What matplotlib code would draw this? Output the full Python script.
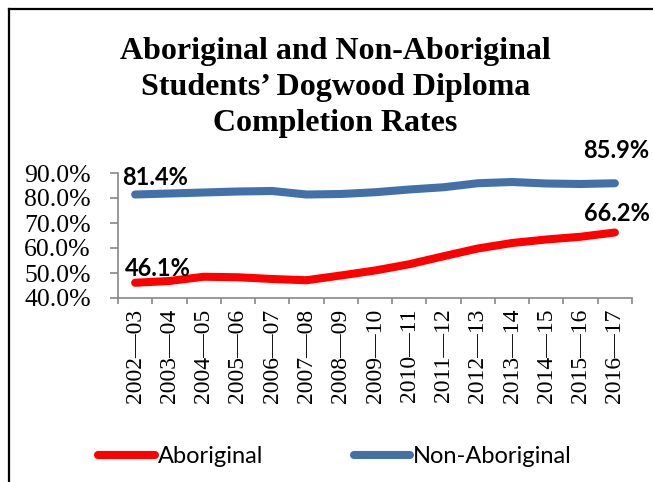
import numpy as np
import matplotlib.pyplot as plt
from matplotlib.lines import Line2D

years = ['2002—03', '2003—04', '2004—05', '2005—06', '2006—07', '2007—08', '2008—09',
         '2009—10', '2010—11', '2011—12', '2012—13', '2013—14', '2014—15', '2015—16', '2016—17']
aboriginal = [46.1, 46.8, 48.5, 48.3, 47.6, 47.1, 49.0, 51.0, 53.5, 56.7, 59.8, 62.0, 63.4, 64.5, 66.2]
non_aboriginal = [81.4, 81.8, 82.2, 82.6, 82.8, 81.4, 81.6, 82.3, 83.4, 84.3, 85.9, 86.4, 85.8, 85.6, 85.9]

red = '#ff0000'
blue = '#4470a8'

fig = plt.figure(figsize=(6.53, 4.82), dpi=100)
W, H = 653, 482
ax = fig.add_axes([118 / W, 1 - 298 / H, (632 - 118) / W, (298 - 173) / H])

x = np.arange(len(years))
ax.plot(x, aboriginal, color=red, lw=5.8, solid_capstyle='round', solid_joinstyle='round')
ax.plot(x, non_aboriginal, color=blue, lw=5.8, solid_capstyle='round', solid_joinstyle='round')

ax.set_xlim(-0.5, len(years) - 0.5)
ax.set_ylim(40, 90)
ax.set_yticks(np.arange(40, 91, 10))
ax.set_yticklabels([f'{v:.1f}%' for v in np.arange(40, 91, 10)],
                   fontfamily='Liberation Serif', fontsize=18.5)
ax.set_xticks(x)
ax.set_xticklabels(years, rotation=90, fontfamily='Liberation Serif', fontsize=17)
ax.set_xticks(np.arange(-0.5, len(years)), minor=True)
ax.tick_params(axis='x', which='major', length=0, pad=7.5)
ax.tick_params(axis='x', which='minor', length=4.3, color='#888888', width=1.2)
ax.tick_params(axis='y', length=6, color='#888888', width=1.2, pad=13.5)

for s in ['top', 'right']:
    ax.spines[s].set_visible(False)
for s in ['left', 'bottom']:
    ax.spines[s].set_color('#888888')
    ax.spines[s].set_linewidth(1.2)

lab = dict(fontsize=17, fontweight='bold', fontfamily='Lato', ha='center', va='baseline',
           textcoords='offset points')
ax.annotate(f'{non_aboriginal[0]:.1f}%', (x[0], non_aboriginal[0]), xytext=(14, 6.8), **lab)
ax.annotate(f'{aboriginal[0]:.1f}%', (x[0], aboriginal[0]), xytext=(16.2, 4.8), **lab)
ax.annotate(f'{non_aboriginal[-1]:.1f}%', (x[-1], non_aboriginal[-1]), xytext=(0.7, 18), **lab)
ax.annotate(f'{aboriginal[-1]:.1f}%', (x[-1], aboriginal[-1]), xytext=(1.8, 8.5), **lab)

title_lines = ['Aboriginal and Non-Aboriginal', 'Students\u2019 Dogwood Diploma', 'Completion Rates']
for line, base in zip(title_lines, [59, 95, 131]):
    fig.text(335.5 / W, 1 - base / H, line, ha='center', va='baseline',
             fontfamily='Liberation Serif', fontweight='bold', fontsize=23)

# legend drawn by hand below the axis
fig.add_artist(Line2D([98 / W, 155 / W], [1 - 455 / H] * 2, color=red, lw=5.8,
                      solid_capstyle='round'))
fig.text(158 / W, 1 - 463 / H, 'Aboriginal', ha='left', va='baseline', fontsize=17,
         fontfamily='Lato')
fig.add_artist(Line2D([354 / W, 410 / W], [1 - 455 / H] * 2, color=blue, lw=5.8,
                      solid_capstyle='round'))
fig.text(413 / W, 1 - 463 / H, 'Non-Aboriginal', ha='left', va='baseline', fontsize=17,
         fontfamily='Lato')

# border (top and left edges visible)
fig.add_artist(Line2D([9 / W, 1], [1 - 9 / H] * 2, color='black', lw=1.6))
fig.add_artist(Line2D([9 / W] * 2, [0, 1 - 9 / H], color='black', lw=1.6))

fig.savefig('out.png', dpi=100)
